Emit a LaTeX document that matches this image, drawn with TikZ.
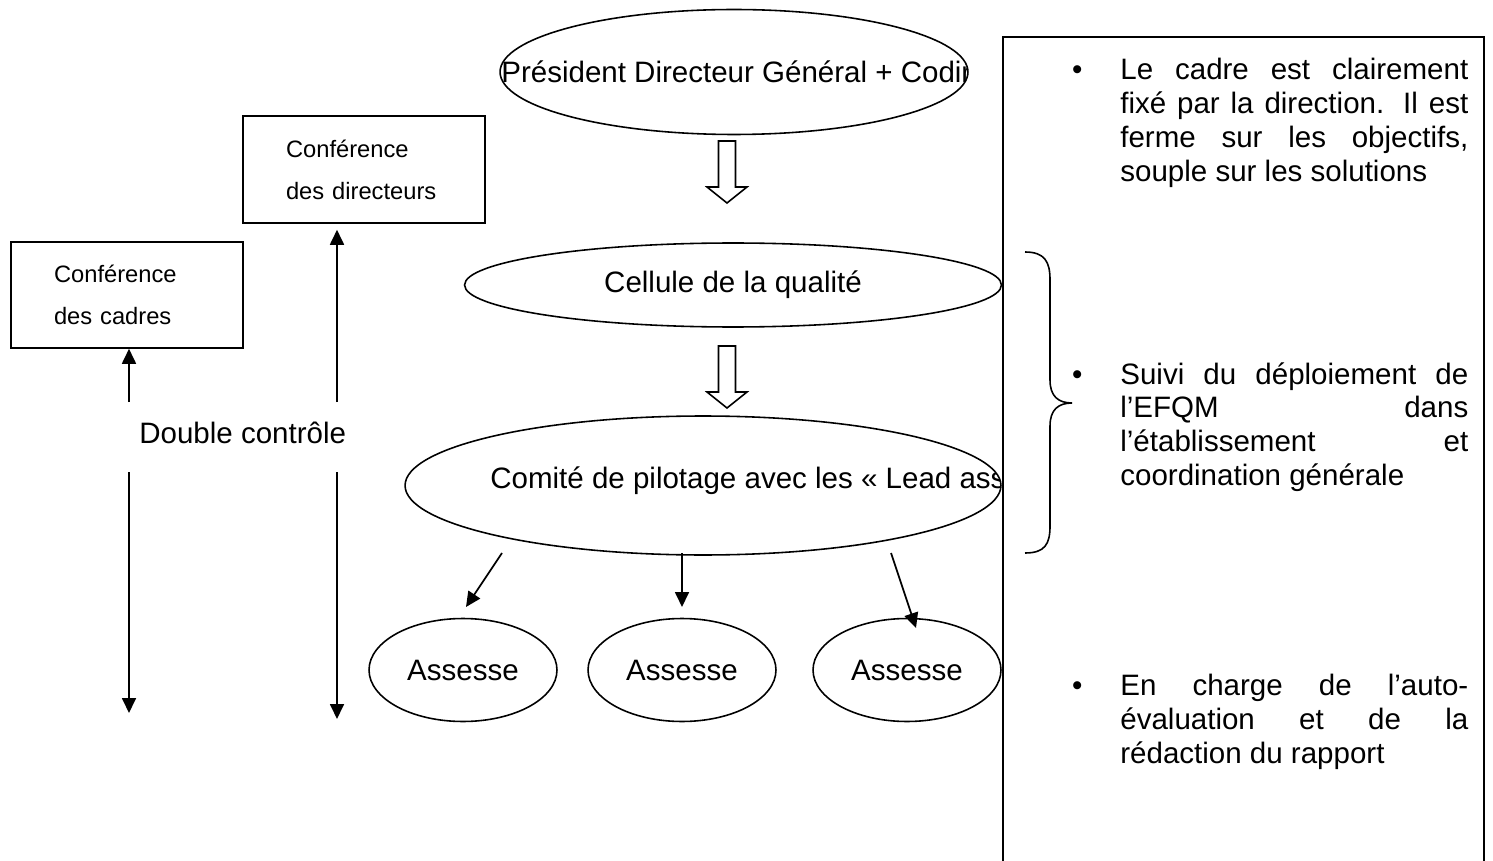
\documentclass[tikz,border=0pt]{standalone}
\usepackage{fontspec}
\setmainfont{Liberation Sans}
\usetikzlibrary{shapes.geometric,arrows.meta}

\tikzset{
	oval/.style={ellipse, draw, line width=0.9pt, inner sep=0pt},
	confbox/.style={draw, line width=0.9pt, align=left, inner xsep=0.86cm, font=\fontsize{13.5}{23.8}\selectfont},
	puce/.style={anchor=north west, inner sep=0pt, align=left},
	fleche/.style={line width=1pt, -{Triangle[length=0.3cm,width=0.28cm]}},
	hollow/.pic={\draw[line width=0.9pt] (-8.5,0) -- (-8.5,46) -- (-20,46) -- (0,62) -- (20,46) -- (8.5,46) -- (8.5,0) -- cycle;}
}
\newcommand{\ligne}[1]{\makebox[6.96cm][s]{#1}}
\newcommand{\pucedot}{\llap{\textbullet\hspace{0.76cm}}}

\begin{document}
\begin{tikzpicture}[x=0.02cm, y=-0.02cm, font=\fontsize{16.8}{19.3}\selectfont]
	\useasboundingbox (0,0) rectangle (1493,861);

	% ellipses du centre
	\node[oval, minimum width=9.36cm, minimum height=2.5cm] (pdg) at (734,72) {};
	\begin{scope}
		\clip (734,72) ellipse (234 and 62.5);
		\node[anchor=west, inner sep=0pt] (pdgtxt) at (501,72) {Président Directeur Général + Codir};
	\end{scope}
	\node[oval, minimum width=10.74cm, minimum height=1.68cm] (cellule) at (733,285) {Cellule de la qualité};
	\node[oval, minimum width=11.92cm, minimum height=2.78cm] (comite) at (703,485.5) {};
	\begin{scope}
		\clip (703,485.5) ellipse (298 and 69.5);
		\node[anchor=west, inner sep=0pt] (comtxt) at (490,481) {Comité de pilotage avec les « Lead ass};
	\end{scope}

	\pic at (727,141) {hollow};
	\pic at (727,346) {hollow};

	\node[oval, minimum width=3.76cm, minimum height=2.06cm] (ass1) at (463,670) {Assesse};
	\node[oval, minimum width=3.76cm, minimum height=2.06cm] (ass2) at (682,670) {Assesse};
	\node[oval, minimum width=3.76cm, minimum height=2.06cm] (ass3) at (907,670) {Assesse};

	\coordinate (s1) at (502,553);
	\coordinate (t1) at (466,607);
	\coordinate (s2) at (682,553);
	\coordinate (t2) at (682,607);
	\coordinate (s3) at (891,553);
	\coordinate (t3) at (916,628);
	\draw[fleche] (s1) -- (t1);
	\draw[fleche] (s2) -- (t2);
	\draw[fleche] (s3) -- (t3);

	% conferences et double controle
	\node[confbox, text width=3.12cm, minimum width=4.84cm, minimum height=2.14cm] (cdir) at (364,169.5) {Conférence\\des directeurs};
	\node[confbox, text width=2.92cm, minimum width=4.64cm, minimum height=2.12cm] (ccad) at (127,295) {Conférence\\des cadres};
	\node[anchor=west, inner sep=0pt] (dc) at (139,433) {Double contrôle};

	\coordinate (u1) at (129,402);
	\coordinate (d1) at (129,472);
	\coordinate (e1) at (129,713);
	\coordinate (u2) at (337,402);
	\coordinate (d2) at (337,472);
	\coordinate (e2) at (337,719);
	\draw[fleche] (u1) -- (u1 |- ccad.south);
	\draw[fleche] (d1) -- (e1);
	\draw[fleche, shorten >=0.12cm] (u2) -- (u2 |- cdir.south);
	\draw[fleche] (d2) -- (e2);

	% cadre de droite
	\draw[line width=0.9pt] (1003,880) -- (1003,37) -- (1484,37) -- (1484,880);
	\draw[line width=0.9pt] (1025,252) .. controls (1045,252) and (1050,262) .. (1050,280) -- (1050,380)
		.. controls (1050,396) and (1058,403) .. (1072,403)
		.. controls (1058,403) and (1050,410) .. (1050,426) -- (1050,526)
		.. controls (1050,544) and (1045,553) .. (1025,553);

	\node[puce] (b1) at (1120,58) {\pucedot\ligne{Le cadre est clairement}\\\ligne{fixé par la direction. Il est}\\\ligne{ferme sur les objectifs,}\\souple sur les solutions};
	\node[puce] (b2) at (1120,362) {\pucedot\ligne{Suivi du déploiement de}\\\ligne{l’EFQM dans}\\\ligne{l’établissement et}\\coordination générale};
	\node[puce] (b3) at (1120,674) {\pucedot\ligne{En charge de l’auto-}\\\ligne{évaluation et de la}\\rédaction du rapport};
\end{tikzpicture}
\end{document}
